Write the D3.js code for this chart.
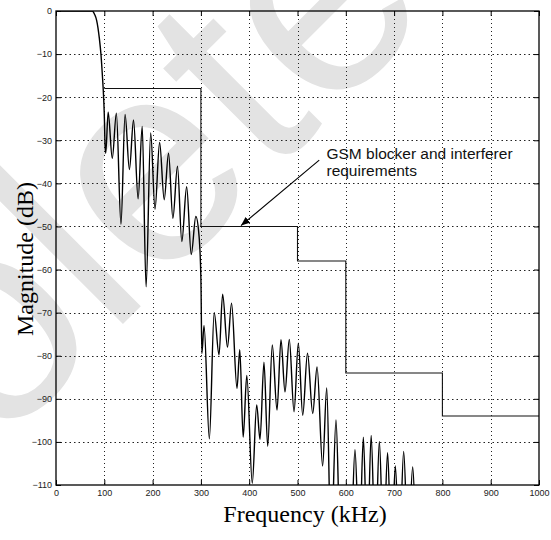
<!DOCTYPE html>
<html>
<head>
<meta charset="utf-8">
<script src="https://cdn.jsdelivr.net/npm/d3@7"></script>
<style>
  body { margin: 0; background: #fff; }
</style>
</head>
<body>
<svg id="chart"></svg>
<script>
// filter magnitude response (kHz, dB)
const freqKHz = [
  0, 60, 75, 80, 84, 89.7, 93.2, 96, 98, 100, 101.5, 103,
  108, 116.5, 125, 134.5, 143, 152, 160.5, 170, 178.5, 186.5, 196, 205,
  214.5, 224, 233, 242, 251.5, 260.5, 270.5, 280, 289.5, 296, 300, 302,
  306.5, 317.5, 327.5, 337.5, 345, 355, 363.5, 374.7, 380.5, 387.5, 395, 406.4,
  415.5, 422.4, 430.6, 438.3, 447.8, 457.6, 465.8, 474.1, 483, 492.8, 501.7, 510.8,
  520.7, 531.5, 540.5, 552, 560.5, 569.5, 579.7, 589, 600, 610, 619, 628,
  636.3, 644.5, 652.5, 661, 669.5, 678, 686.5, 694.5, 702.5, 711, 719.8, 729,
  738.5, 747, 760, 800, 1000
];
const magDB = [
  0, 0, 0, -0.8, -2.1, -6.3, -10.2, -14.9, -18.7, -24.1, -31, -33,
  -23.5, -34.2, -23.7, -49.5, -24, -36.8, -25.3, -43.6, -26.8, -64, -28.3, -46,
  -30.5, -43.8, -33, -48.1, -36, -53.5, -40.8, -56.5, -47.7, -52, -62, -79.5,
  -73, -99.3, -70, -79.8, -65.7, -78, -67.8, -87.6, -78.6, -98.9, -84.6, -109.6,
  -91.4, -99.4, -81.5, -101, -77.5, -92.6, -76.3, -88.4, -76.2, -93, -77.1, -93.8,
  -79.4, -93.4, -82.6, -105.6, -87.5, -125, -94.9, -125, -115, -125, -101.8, -125,
  -98.9, -125, -98.5, -125, -99.9, -125, -102.5, -125, -105.6, -125, -102.2, -125,
  -105.8, -125, -118, -125, -125
];

// GSM blocker / interferer mask
const maskFreq = [100, 300, 500, 600, 800, 1000];
const maskDB = [-18, -50, -58, -84, -94, -94];

const xTicks = [0, 100, 200, 300, 400, 500, 600, 700, 800, 900, 1000];
const yTicks = [0, -10, -20, -30, -40, -50, -60, -70, -80, -90, -100, -110];

const noteLines = ["GSM blocker and interferer", "requirements"];

// 1. Setup
const width = 551, height = 540;
const svg = d3.select("#chart").attr("width", width).attr("height", height);

const x = d3.scaleLinear().domain([0, 1000]).range([56, 539]);
const y = d3.scaleLinear().domain([-110, 0]).range([485, 11]);

// 2. Watermark
svg.append("text")
  .attr("transform", "translate(30,417) rotate(-45)")
  .attr("text-anchor", "middle")
  .attr("font-family", "'Liberation Sans', Arial, sans-serif")
  .attr("font-size", 288)
  .attr("fill", "#e3e3e3")
  .text("Obsolete");

// 3. Grid
const grid = svg.append("g").attr("stroke", "#222").attr("stroke-width", 1);
grid.selectAll(".vg")
  .data(xTicks.slice(1, -1))
  .join("line")
    .attr("x1", d => Math.round(x(d)) + 0.5)
    .attr("x2", d => Math.round(x(d)) + 0.5)
    .attr("y1", y(0))
    .attr("y2", y(-110))
    .attr("stroke-dasharray", "1,3");
grid.selectAll(".hg")
  .data(yTicks.slice(1, -1))
  .join("line")
    .attr("x1", x(0))
    .attr("x2", x(1000))
    .attr("y1", d => Math.round(y(d)) + 0.5)
    .attr("y2", d => Math.round(y(d)) + 0.5)
    .attr("stroke-dasharray", "1.5,3");

// 4. Axes (ticks inward on all four sides)
function styleAxis(g) {
  g.select(".domain").remove();
  g.selectAll("line").attr("stroke", "#000");
  g.selectAll("text")
    .attr("fill", "#222")
    .attr("font-family", "'Liberation Sans', Arial, sans-serif")
    .attr("font-size", 9);
}

svg.append("g")
  .attr("transform", `translate(0,${y(-110)})`)
  .call(d3.axisBottom(x).tickValues(xTicks).tickSize(-5).tickPadding(5).tickFormat(d3.format("d")))
  .call(styleAxis);

svg.append("g")
  .attr("transform", `translate(${x(0)},0)`)
  .call(d3.axisLeft(y).tickValues(yTicks).tickSize(-5).tickPadding(4).tickFormat(d3.format("d")))
  .call(styleAxis);

svg.append("g")
  .attr("transform", `translate(0,${y(0)})`)
  .call(d3.axisTop(x).tickValues(xTicks).tickSize(-5).tickFormat(""))
  .call(styleAxis);

svg.append("g")
  .attr("transform", `translate(${x(1000)},0)`)
  .call(d3.axisRight(y).tickValues(yTicks).tickSize(-5).tickFormat(""))
  .call(styleAxis);

// 5. Plot lines
svg.append("defs").append("clipPath").attr("id", "plot-clip")
  .append("rect")
    .attr("x", x(0)).attr("y", y(0))
    .attr("width", x(1000) - x(0))
    .attr("height", y(-110) - y(0));

const plot = svg.append("g").attr("clip-path", "url(#plot-clip)");

const maskLine = d3.line()
  .x(d => x(d[0]))
  .y(d => y(d[1]))
  .curve(d3.curveStepAfter);

plot.append("path")
  .datum(d3.zip(maskFreq, maskDB))
  .attr("d", maskLine)
  .attr("fill", "none")
  .attr("stroke", "#111")
  .attr("stroke-width", 1.1);

const respLine = d3.line()
  .x(d => x(d[0]))
  .y(d => y(d[1]))
  .curve(d3.curveMonotoneX);

plot.append("path")
  .datum(d3.zip(freqKHz, magDB))
  .attr("d", respLine)
  .attr("fill", "none")
  .attr("stroke", "#000")
  .attr("stroke-width", 1.4)
  .attr("stroke-linejoin", "round");

// 6. Box
svg.append("rect")
  .attr("x", x(0)).attr("y", y(0))
  .attr("width", x(1000) - x(0))
  .attr("height", y(-110) - y(0))
  .attr("fill", "none")
  .attr("stroke", "#000")
  .attr("stroke-width", 1.3);

// 7. Annotation
svg.append("defs").append("marker")
  .attr("id", "arrow")
  .attr("viewBox", "0 0 10 10")
  .attr("refX", 10).attr("refY", 5)
  .attr("markerWidth", 9).attr("markerHeight", 9)
  .attr("markerUnits", "userSpaceOnUse")
  .attr("orient", "auto")
  .append("path")
    .attr("d", "M0,1 L10,5 L0,9 z")
    .attr("fill", "#000");

svg.append("line")
  .attr("x1", x(545)).attr("y1", y(-34.6))
  .attr("x2", x(383)).attr("y2", y(-49.8))
  .attr("stroke", "#000")
  .attr("stroke-width", 1.1)
  .attr("marker-end", "url(#arrow)");

svg.append("text")
  .attr("x", x(560))
  .attr("y", y(-34.4))
  .attr("font-family", "'Liberation Sans', Arial, sans-serif")
  .attr("font-size", 15.5)
  .attr("fill", "#111")
  .selectAll("tspan")
  .data(noteLines)
  .join("tspan")
    .attr("x", x(560))
    .attr("dy", (d, i) => i === 0 ? 0 : 16.7)
    .text(d => d);

// 8. Axis titles
svg.append("text")
  .attr("x", 305)
  .attr("y", 522)
  .attr("text-anchor", "middle")
  .attr("font-family", "'Liberation Serif', 'Times New Roman', serif")
  .attr("font-size", 24)
  .attr("fill", "#000")
  .text("Frequency (kHz)");

svg.append("text")
  .attr("transform", "translate(33,259) rotate(-90)")
  .attr("text-anchor", "middle")
  .attr("font-family", "'Liberation Serif', 'Times New Roman', serif")
  .attr("font-size", 24)
  .attr("fill", "#000")
  .text("Magnitude (dB)");
</script>
</body>
</html>
